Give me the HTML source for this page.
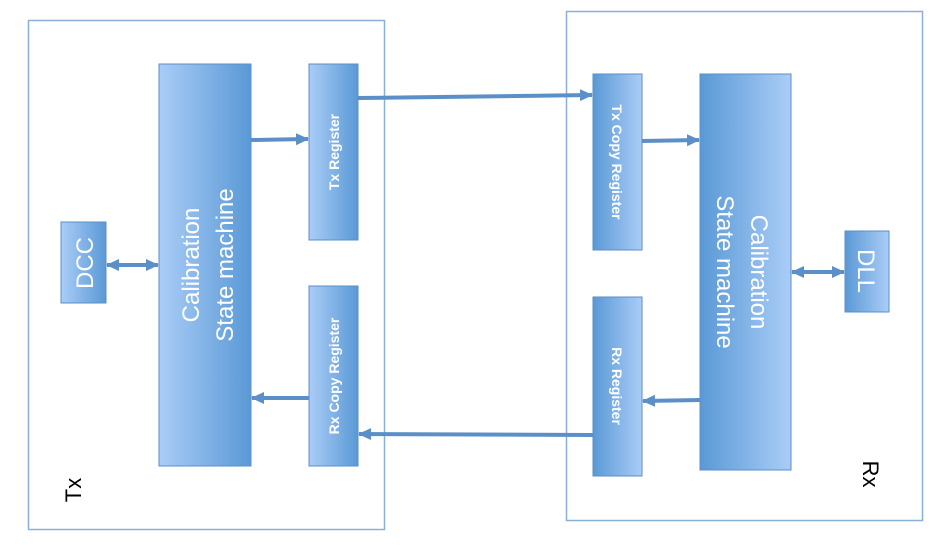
<!DOCTYPE html>
<html><head><meta charset="utf-8"><style>body{margin:0;background:#fff}svg{display:block}</style></head>
<body>
<svg width="944" height="548" viewBox="0 0 944 548" xmlns="http://www.w3.org/2000/svg" font-family="Liberation Sans, sans-serif">
<defs>
<linearGradient id="gL" x1="0" x2="1" y1="0" y2="0"><stop offset="0" stop-color="#aacdf7"/><stop offset="1" stop-color="#5a99d6"/></linearGradient>
<linearGradient id="gR" x1="0" x2="1" y1="0" y2="0"><stop offset="0" stop-color="#5a99d6"/><stop offset="1" stop-color="#aacdf7"/></linearGradient>
<marker id="ah" markerWidth="14" markerHeight="14" refX="12" refY="7" orient="auto" markerUnits="userSpaceOnUse"><path d="M0,1 L13,7 L0,13 Z" fill="#5b8fc7"/></marker>
<marker id="as" markerWidth="14" markerHeight="14" refX="1" refY="7" orient="auto" markerUnits="userSpaceOnUse"><path d="M13,1 L0,7 L13,13 Z" fill="#5b8fc7"/></marker>
</defs>
<rect x="28.5" y="20.5" width="356" height="509" fill="none" stroke="#8ab0d8" stroke-width="1.5"/>
<rect x="566.5" y="11.5" width="356" height="509" fill="none" stroke="#8ab0d8" stroke-width="1.5"/>
<g stroke="#5b8fc7" stroke-width="1">
<rect x="159" y="64" width="92" height="402" fill="url(#gL)"/>
<rect x="309" y="64" width="49" height="176" fill="url(#gL)"/>
<rect x="309" y="286" width="49" height="180" fill="url(#gL)"/>
<rect x="61" y="222" width="45" height="81" fill="url(#gL)"/>
<rect x="700" y="74" width="91" height="396" fill="url(#gR)"/>
<rect x="593" y="74" width="49" height="176" fill="url(#gR)"/>
<rect x="593" y="297" width="49" height="179" fill="url(#gR)"/>
<rect x="845" y="231" width="44" height="81" fill="url(#gR)"/>
</g>
<g stroke="#5b8fc7" stroke-width="4" fill="none">
<line x1="251" y1="140" x2="308" y2="139" marker-end="url(#ah)"/>
<line x1="107" y1="265" x2="158" y2="265" marker-start="url(#as)" marker-end="url(#ah)"/>
<line x1="309" y1="398" x2="252" y2="398" marker-end="url(#ah)"/>
<line x1="358" y1="98" x2="592" y2="95" marker-end="url(#ah)"/>
<line x1="593" y1="435" x2="359" y2="434" marker-end="url(#ah)"/>
<line x1="642" y1="141" x2="699" y2="140" marker-end="url(#ah)"/>
<line x1="700" y1="400" x2="643" y2="401" marker-end="url(#ah)"/>
<line x1="792" y1="272" x2="844" y2="272" marker-start="url(#as)" marker-end="url(#ah)"/>
</g>
<g fill="#fff" text-anchor="middle">
<text transform="translate(205,265) rotate(-90)" font-size="24"><tspan x="0" dy="-6">Calibration</tspan><tspan x="0" dy="34">State machine</tspan></text>
<text transform="translate(339,152) rotate(-90)" font-size="14" font-weight="bold">Tx Register</text>
<text transform="translate(339,376) rotate(-90)" font-size="14" font-weight="bold">Rx Copy Register</text>
<text transform="translate(93,263) rotate(-90)" font-size="24">DCC</text>
<text transform="translate(745,272) rotate(90)" font-size="24"><tspan x="0" dy="-6">Calibration</tspan><tspan x="0" dy="34">State machine</tspan></text>
<text transform="translate(612,162) rotate(90)" font-size="14" font-weight="bold">Tx Copy Register</text>
<text transform="translate(612,386) rotate(90)" font-size="14" font-weight="bold">Rx Register</text>
<text transform="translate(858,271) rotate(90)" font-size="24">DLL</text>
</g>
<text transform="translate(81,490) rotate(-90)" font-size="22" text-anchor="middle">Tx</text>
<text transform="translate(863,474) rotate(90)" font-size="22" text-anchor="middle">Rx</text>
</svg>
</body></html>
